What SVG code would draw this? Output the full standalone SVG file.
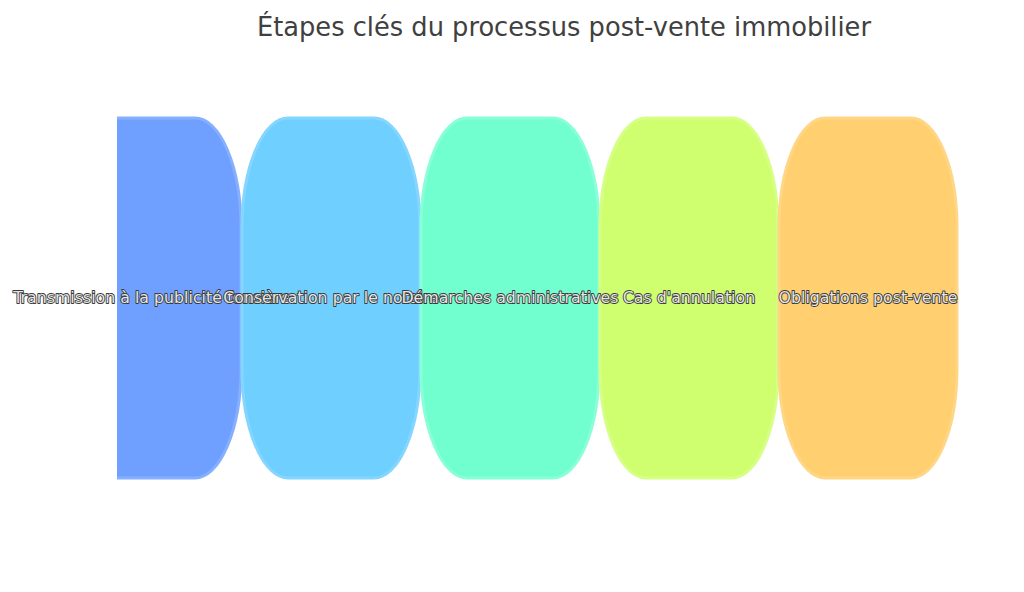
<svg xmlns="http://www.w3.org/2000/svg" width="1024" height="592" viewBox="0 0 1024 592">
<defs>
<style>
.title{font-family:"DejaVu Sans","Liberation Sans",sans-serif;font-size:25.7px;fill:#404040;text-anchor:middle}
.shape{stroke-width:3}
.lbl{font-family:"DejaVu Sans","Liberation Sans",sans-serif;font-size:15.8px;text-anchor:middle;fill:#e6e6e6;stroke:#3a3a3a;stroke-width:1.8;paint-order:stroke;stroke-linejoin:round}
</style>
<clipPath id="clip1"><rect x="117" y="100" width="200" height="400"/></clipPath>
</defs>
<rect width="1024" height="592" fill="#ffffff"/>
<text class="title" x="564" y="36">Étapes clés du processus post-vente immobilier</text>
<g id="connectors"></g>
<g id="node1" clip-path="url(#clip1)">
<rect class="shape" x="63" y="118" width="178" height="360" rx="46" ry="110" fill="#6fa0ff" stroke="#86afff"/>
</g>
<g id="node2">
<rect class="shape" x="242" y="118" width="178" height="360" rx="46" ry="110" fill="#6fcfff" stroke="#85d6ff"/>
</g>
<g id="node3">
<rect class="shape" x="421" y="118" width="178" height="360" rx="46" ry="110" fill="#72ffcf" stroke="#88ffd6"/>
</g>
<g id="node4">
<rect class="shape" x="600" y="118" width="178" height="360" rx="46" ry="110" fill="#cfff6f" stroke="#d6ff86"/>
</g>
<g id="node5">
<rect class="shape" x="779" y="118" width="178" height="360" rx="46" ry="110" fill="#ffcf70" stroke="#ffd686"/>
</g>
<g id="labels">
<text class="lbl" x="152" y="303">Transmission à la publicité foncière</text>
<text class="lbl" x="331" y="303">Conservation par le notaire</text>
<text class="lbl" x="510" y="303">Démarches administratives</text>
<text class="lbl" x="689" y="303">Cas d'annulation</text>
<text class="lbl" x="868" y="303">Obligations post-vente</text>
</g>
</svg>
